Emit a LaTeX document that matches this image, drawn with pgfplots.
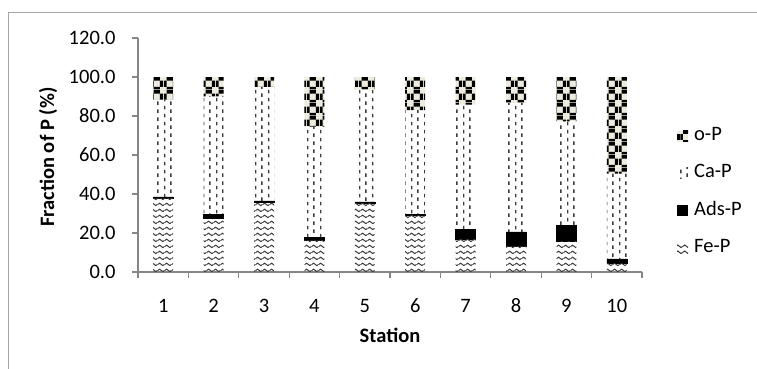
\documentclass[border=0pt]{standalone}
\usepackage{pgfplots}
\pgfplotsset{compat=1.18}
\usepackage{fontspec}
\setmainfont{Carlito}
\usetikzlibrary{patterns.meta}
\definecolor{axgray}{RGB}{134,134,134}
\definecolor{framegray}{RGB}{165,165,165}
\definecolor{cream}{RGB}{238,236,222}
\definecolor{patgray}{RGB}{60,60,60}
\tikzdeclarepattern{
  name=checkP, type=uncolored,
  bottom left={(0pt,0pt)}, top right={(12.6pt,12.6pt)}, tile size={(12.6pt,12.6pt)},
  code={\fill (2.8pt,8.5pt) rectangle (9.1pt,12.6pt);
        \fill (2.8pt,0pt) rectangle (9.1pt,2.2pt);
        \fill (9.1pt,2.2pt) rectangle (12.6pt,8.5pt);
        \fill (0pt,2.2pt) rectangle (2.8pt,8.5pt);}
}
\tikzdeclarepattern{
  name=dashP, type=uncolored,
  bottom left={(0pt,0pt)}, top right={(12.6pt,8pt)}, tile size={(12.6pt,8pt)},
  code={\fill (6.4pt,0pt) rectangle (7.8pt,4pt);
        \fill (0.1pt,4pt) rectangle (1.5pt,8pt);}
}
\tikzdeclarepattern{
  name=waveP, type=uncolored,
  bottom left={(0pt,0pt)}, top right={(7.2pt,6pt)}, tile size={(7.2pt,6pt)},
  code={\draw[line width=1.1pt] (0pt,3pt) sin (1.8pt,4.4pt) cos (3.6pt,3pt) sin (5.4pt,1.6pt) cos (7.2pt,3pt);}
}
\pgfplotstableread{
st FeP AdsP CaP oP
1 38.0 0.5 49.9 11.6
2 27.5 2.0 60.6 9.9
3 36.0 0.5 58.4 5.1
4 16.5 1.3 56.8 25.4
5 35.5 0.5 57.5 6.5
6 29.0 0.4 53.6 17.0
7 16.9 5.1 63.8 14.2
8 13.3 7.3 66.1 13.3
9 15.9 8.2 53.2 22.7
10 4.4 2.3 43.8 49.5
}\datatable
\begin{document}
\begin{tikzpicture}
\useasboundingbox (0pt,0pt) rectangle (757pt,-369pt);
\draw[framegray, line width=1pt] (8pt,-380pt) -- (8pt,-13pt) -- (770pt,-13pt);
\begin{axis}[
  at={(138pt,-272pt)}, anchor=south west,
  scale only axis, width=504pt, height=234pt,
  ybar stacked, bar width=20pt,
  xmin=0.5, xmax=10.5, ymin=0, ymax=120,
  enlargelimits=false,
  axis x line*=bottom, axis y line*=left,
  axis line style={axgray, line width=1.1pt, -},
  tick style={axgray, line width=1.1pt},
  tick align=outside, major tick length=6pt,
  xtick={0.5,1.5,...,10.5}, x tick label as interval,
  xticklabels={1,2,3,4,5,6,7,8,9,10},
  ytick={0,20,...,120},
  yticklabel={\pgfmathprintnumber[fixed,fixed zerofill,precision=1,assume math mode=true]{\tick}},
  font=\fontsize{20.5}{24}\selectfont,
  ticklabel style={font=\fontsize{20.5}{24}\selectfont},
  xticklabel style={anchor=base, yshift=-34.5pt},
  yticklabel style={xshift=-13pt},
  xlabel={\bfseries Station},
  ylabel={\bfseries Fraction of P (\%)},
  every axis x label/.style={at={(axis description cs:0.5,-0.269)}, anchor=center},
  every axis y label/.style={at={(axis description cs:-0.1786,0.491)}, anchor=center, rotate=90},
  legend style={at={(1.0694,0.6175)}, anchor=north west, draw=none, fill=none,
    font=\fontsize{20.5}{24}\selectfont, inner sep=0pt, row sep=22pt, column sep=6pt,
    nodes={inner sep=0pt, anchor=base west}},
  legend cell align=left,
  reverse legend,
  legend image code/.code={\draw[#1,draw=none] (0pt,-1pt) rectangle (11pt,10pt);},
]
\addplot[draw=none, pattern=waveP, pattern color=patgray] table[x=st,y=FeP]{\datatable};
\addplot[draw=black, fill=black] table[x=st,y=AdsP]{\datatable};
\addplot[draw=none, pattern=dashP, pattern color=patgray] table[x=st,y=CaP]{\datatable};
\addplot[draw=none, fill=cream, postaction={pattern=checkP, pattern color=black}] table[x=st,y=oP]{\datatable};
\legend{Fe-P,Ads-P,Ca-P,o-P}
\end{axis}
\end{tikzpicture}
\end{document}
